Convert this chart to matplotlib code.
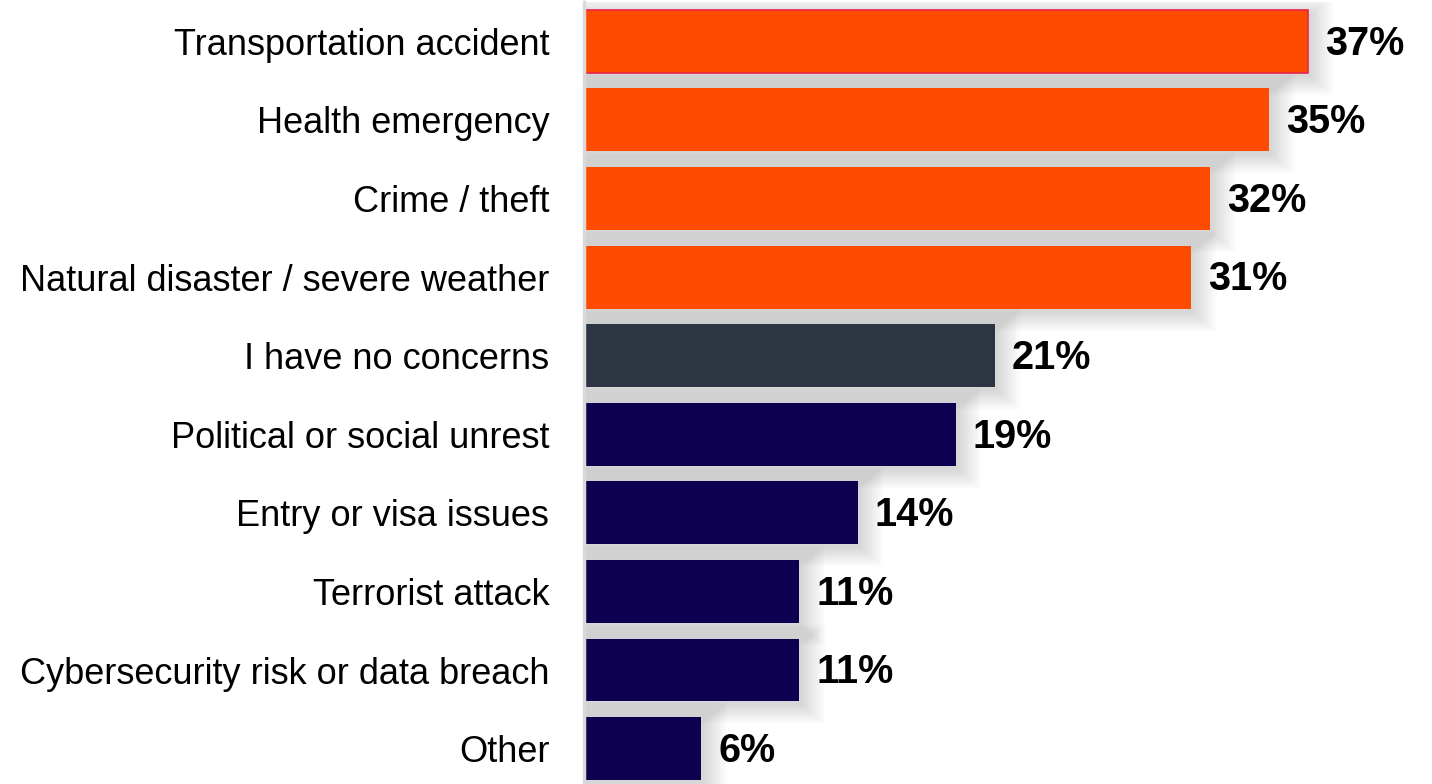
import matplotlib.pyplot as plt
from matplotlib.patches import Rectangle

plt.rcParams['font.family'] = ['Liberation Sans', 'DejaVu Sans']

categories = ['Transportation accident', 'Health emergency', 'Crime / theft',
              'Natural disaster / severe weather', 'I have no concerns',
              'Political or social unrest', 'Entry or visa issues',
              'Terrorist attack', 'Cybersecurity risk or data breach', 'Other']
values = [37, 35, 32, 31, 21, 19, 14, 11, 11, 6]
groups = ['top', 'top', 'top', 'top', 'none', 'rest', 'rest', 'rest', 'rest', 'rest']

colors = {'top': '#FF4B00', 'none': '#2B3642', 'rest': '#0D0050'}

fig = plt.figure(figsize=(14.32, 7.84), dpi=100)
ax = fig.add_axes([584 / 1432, 0, 1 - 584 / 1432, 782 / 784])

px_x = 19.57   # pixels per percent
px_y = 78.56   # pixels per row
h = 0.8

# soft drop shadow behind each bar
for i, v in enumerate(values):
    for k in range(20):
        ex = (k * 1.2) / px_x
        ey = (k * 1.0) / px_y
        ax.add_patch(Rectangle((0, i - h / 2 - ey + 4 / px_y), v + ex + 3 / px_x,
                               h + 2 * ey, facecolor='black', alpha=0.009,
                               edgecolor='none', zorder=1))

bars = ax.barh(range(len(values)), values, height=h,
               color=[colors[g] for g in groups], zorder=3)
bars[0].set_edgecolor('#E8244A')
bars[0].set_linewidth(1.2)

for i, v in enumerate(values):
    ax.text(v + 17 / px_x, i + 0.03, f'{v}%', va='center', ha='left',
            fontsize=28.5, fontweight='bold', color='black', zorder=4)

ax.set_yticks(range(len(values)))
ax.set_yticklabels(categories, fontsize=26)
ax.tick_params(axis='y', length=0, pad=25)
ax.set_xticks([])
ax.set_xlim(0, 848 / px_x)
ax.set_ylim(9.45, -0.5)

for s in ['top', 'right', 'bottom']:
    ax.spines[s].set_visible(False)
ax.spines['left'].set_color('#D9D9D9')
ax.spines['left'].set_linewidth(2.5)
ax.spines['left'].set_zorder(5)

fig.savefig('out.png', dpi=100, facecolor='white')
